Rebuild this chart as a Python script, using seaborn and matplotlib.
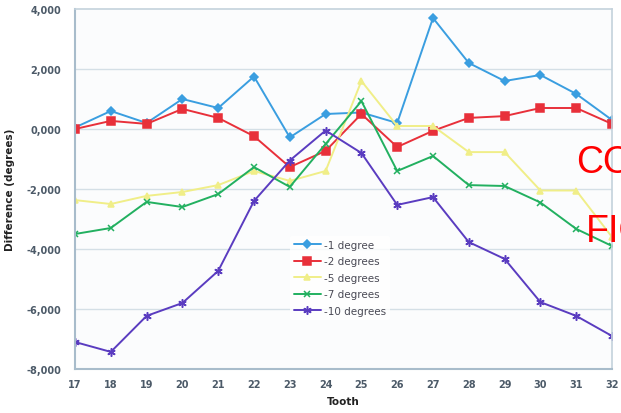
import matplotlib
matplotlib.use("Agg")
import matplotlib.pyplot as plt
import seaborn as sns
import pandas as pd

# Tooth numbers along the x axis
teeth = list(range(17, 33))

# Difference (degrees) per tooth for each rotation
deg_1 = [0.05, 0.6, 0.2, 1.0, 0.7, 1.75, -0.28, 0.5, 0.55, 0.2, 3.7, 2.2, 1.6, 1.8, 1.17, 0.3]
deg_2 = [0.0, 0.27, 0.17, 0.67, 0.37, -0.24, -1.27, -0.73, 0.5, -0.6, -0.06, 0.37, 0.43, 0.7, 0.7, 0.17]
deg_5 = [-2.37, -2.5, -2.23, -2.1, -1.87, -1.4, -1.73, -1.4, 1.6, 0.1, 0.1, -0.77, -0.77, -2.05, -2.05, -3.6]
deg_7 = [-3.5, -3.3, -2.43, -2.6, -2.17, -1.27, -1.93, -0.5, 0.93, -1.4, -0.9, -1.87, -1.9, -2.45, -3.33, -3.9]
deg_10 = [-7.1, -7.43, -6.23, -5.8, -4.73, -2.4, -1.05, -0.05, -0.8, -2.53, -2.27, -3.77, -4.33, -5.77, -6.23, -6.9]

series_names = ["-1 degree", "-2 degrees", "-5 degrees", "-7 degrees", "-10 degrees"]
series_values = [deg_1, deg_2, deg_5, deg_7, deg_10]
y_ticks = [4, 2, 0, -2, -4, -6, -8]
y_tick_labels = ["4,000", "2,000", "0,000", "-2,000", "-4,000", "-6,000", "-8,000"]

colors = ["#3a9ee0", "#e8303a", "#f0ee88", "#22b060", "#5a3cc0"]
markers = ["D", "s", "^", "x", (6, 2, 0)]
msizes = [4, 5.5, 5, 5, 6]

frames = []
for name, vals in zip(series_names, series_values):
    frames.append(pd.DataFrame({"Tooth": teeth, "Difference": vals, "Series": name}))
df = pd.concat(frames, ignore_index=True)

sns.set_style("white")
fig = plt.figure(figsize=(6.21, 4.14), dpi=100)
fig.patch.set_facecolor("white")
ax = fig.add_axes([75 / 621, 1 - 370 / 414, (612 - 75) / 621, 360 / 414])
ax.set_facecolor("#fbfcfd")

for name, c, m, ms in zip(series_names, colors, markers, msizes):
    sub = df[df["Series"] == name]
    sns.lineplot(data=sub, x="Tooth", y="Difference", ax=ax, color=c,
                 marker=m, markersize=ms, markeredgecolor=c, markeredgewidth=1.1,
                 linewidth=1.4, label=name)

ax.set_xlim(17, 32)
ax.set_ylim(-8, 4)
ax.set_xticks(teeth)
ax.set_xticklabels([str(t) for t in teeth])
ax.set_yticks(y_ticks)
ax.set_yticklabels(y_tick_labels)
ax.tick_params(axis="both", labelsize=7, colors="#4c5a68", length=0)
ax.tick_params(axis="y", pad=10)
ax.tick_params(axis="x", pad=7)
for lbl in ax.get_xticklabels() + ax.get_yticklabels():
    lbl.set_fontweight("bold")

for y in [2, 0, -2, -4, -6]:
    ax.axhline(y, color="#d4dfe6", linewidth=1, zorder=0)

for side in ["left", "bottom"]:
    ax.spines[side].set_color("#a8bccb")
    ax.spines[side].set_linewidth(1.5)
for side in ["top", "right"]:
    ax.spines[side].set_color("#c4d2dc")
    ax.spines[side].set_linewidth(1.2)

ax.set_xlabel("Tooth", fontsize=7.5, fontweight="bold", color="#222222", labelpad=5)
ax.set_ylabel("Difference (degrees)", fontsize=7.5, fontweight="bold", color="#222222", labelpad=8)

leg = ax.legend(loc="upper left", bbox_to_anchor=(0.39, 0.385), frameon=True,
                fontsize=7.5, handlelength=2.6, labelspacing=0.62, borderpad=0.4,
                handletextpad=0.3)
leg.get_frame().set_facecolor("white")
leg.get_frame().set_edgecolor("none")
for t in leg.get_texts():
    t.set_color("#4a4a55")

# Red overlay text running off the right edge
fig.text(576 / 621, 1 - 173 / 414, "CO", color="red", fontsize=27,
         family="Liberation Sans", ha="left", va="baseline")
fig.text(586 / 621, 1 - 242 / 414, "FIG", color="red", fontsize=27,
         family="Liberation Sans", ha="left", va="baseline")

fig.savefig("out.png", dpi=100, facecolor="white")
